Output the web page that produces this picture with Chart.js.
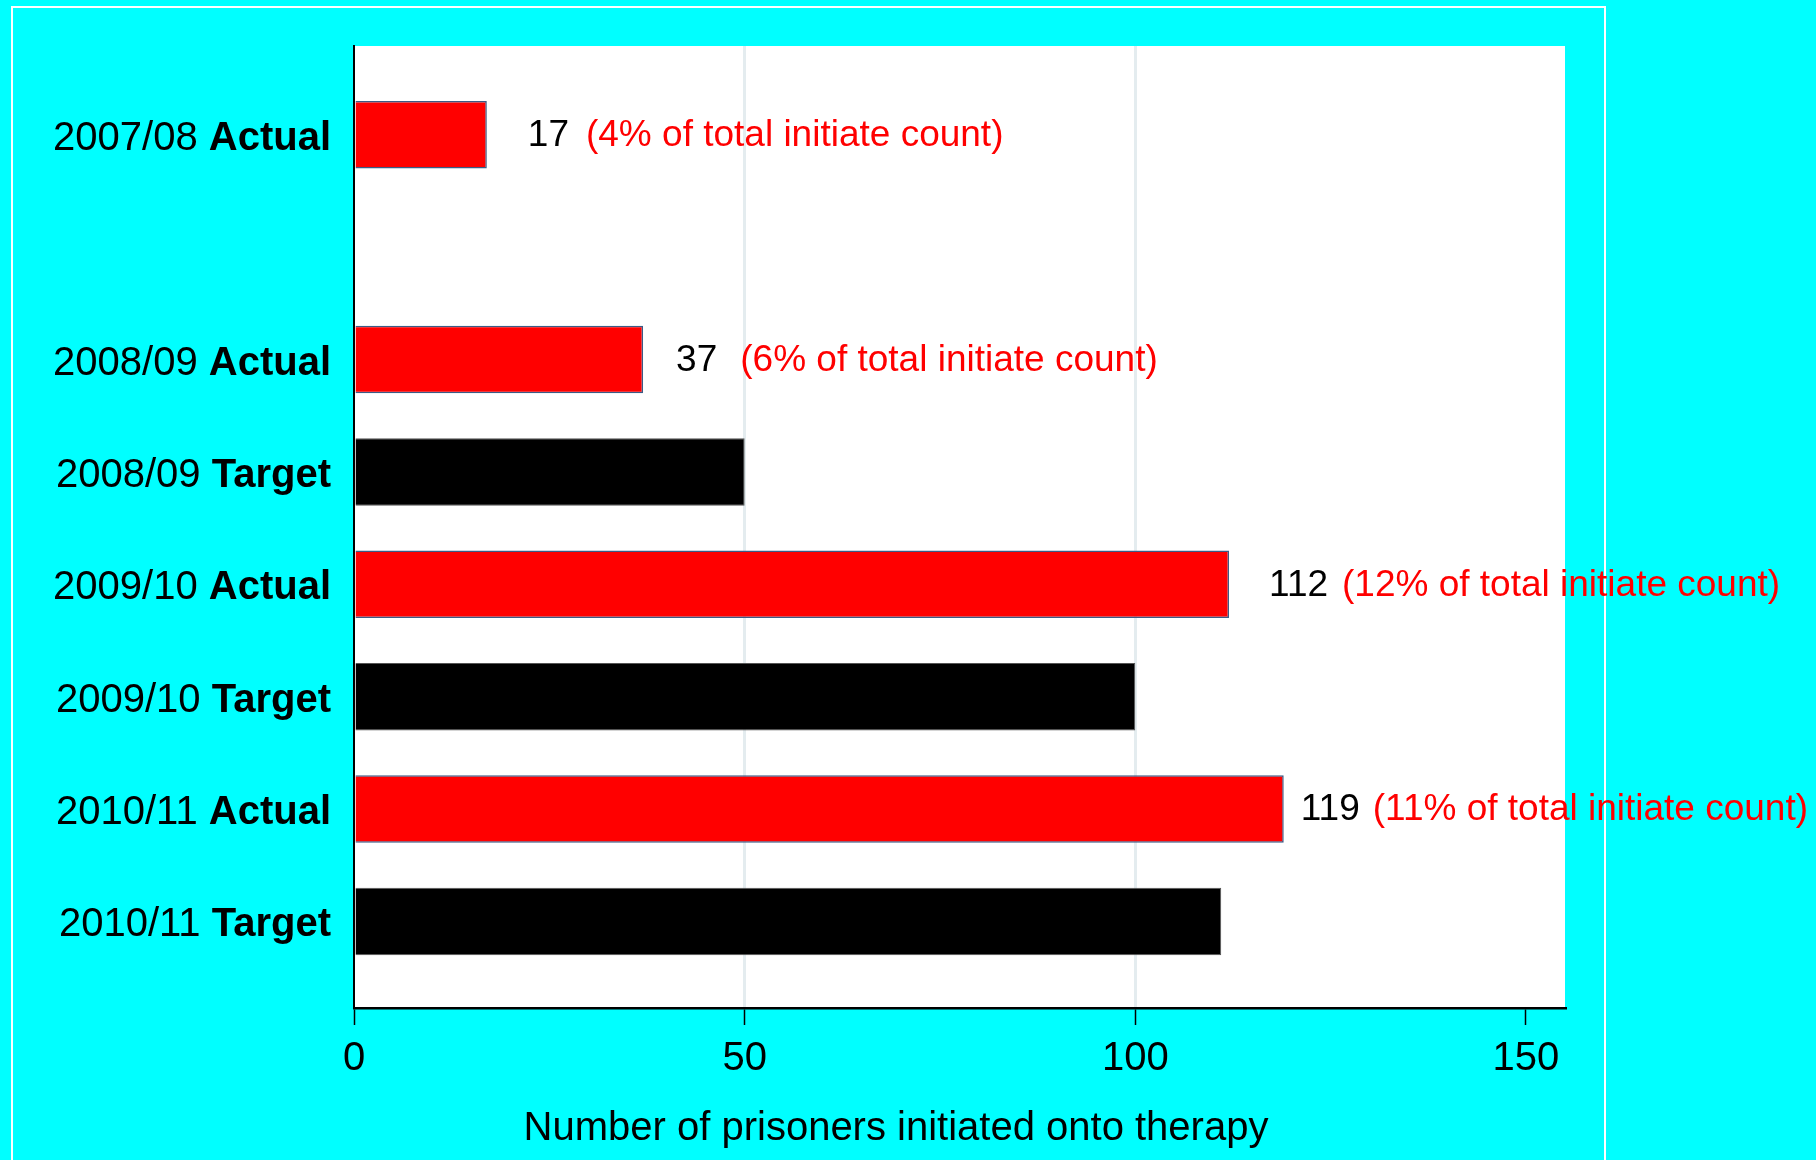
<!DOCTYPE html>
<html>
<head>
<meta charset="utf-8">
<title>Prisoners initiated onto therapy</title>
<script src="https://cdn.jsdelivr.net/npm/chart.js@4"></script>
<style>
  html, body { margin: 0; padding: 0; background: #00ffff; }
</style>
</head>
<body>
<canvas id="initiates" width="1816" height="1160"></canvas>
<script>
// rows top to bottom; the blank row leaves the gap under 2007/08 (no target that year)
const rowLabels = ['2007/08 Actual', '', '2008/09 Actual', '2008/09 Target',
                   '2009/10 Actual', '2009/10 Target', '2010/11 Actual', '2010/11 Target'];

const actualRows = [0, 2, 4, 6];
const actualValues = [17, 37, 112, 119];
const actualShares = ['4%', '6%', '12%', '11%'];

const targetRows = [3, 5, 7];
const targetValues = [50, 100, 111];

const xTickValues = [0, 50, 100, 150];
const gridValues = [50, 100];

const axisTitle = 'Number of prisoners initiated onto therapy';

// hand tweaks for the value notes: space after the bar end, space before the bracket
const noteNudge = [41, 33, 40, 17];
const noteGap = [17, 23, 14, 13];

const FONT = "'Liberation Sans', Arial, Helvetica, sans-serif";

const decor = {
    id: 'decor',
    beforeDraw(chart) {
        const { ctx, chartArea: a } = chart;
        ctx.save();
        ctx.fillStyle = '#00ffff';
        ctx.fillRect(0, 0, chart.width, chart.height);
        // thin white frame round the slide
        ctx.strokeStyle = '#ffffff';
        ctx.lineWidth = 2;
        ctx.strokeRect(12, 7, 1593, chart.height + 20);
        // white plot area
        ctx.fillStyle = '#ffffff';
        ctx.fillRect(a.left, a.top, a.right - a.left, a.bottom - a.top);
        ctx.restore();
    },
    afterDraw(chart) {
        const { ctx } = chart;
        const xs = chart.scales.x, ys = chart.scales.y;
        ctx.save();
        ctx.textBaseline = 'middle';
        ctx.textAlign = 'left';

        // row labels: year in plain, Actual/Target in bold
        rowLabels.forEach((label, i) => {
            if (!label) return;
            const cut = label.lastIndexOf(' ');
            const year = label.slice(0, cut + 1);
            const kind = label.slice(cut + 1);
            ctx.font = `40px ${FONT}`;
            const w1 = ctx.measureText(year).width;
            ctx.font = `bold 40px ${FONT}`;
            const w2 = ctx.measureText(kind).width;
            const left = 331 - w1 - w2;
            const py = ys.getPixelForValue(i) + 4;
            ctx.fillStyle = '#000000';
            ctx.font = `40px ${FONT}`;
            ctx.fillText(year, left, py);
            ctx.font = `bold 40px ${FONT}`;
            ctx.fillText(kind, left + w1, py);
        });

        // value and share of total next to each actual bar
        ctx.font = `37px ${FONT}`;
        actualValues.forEach((v, k) => {
            const px = xs.getPixelForValue(v) + noteNudge[k];
            const py = ys.getPixelForValue(actualRows[k]) + 1;
            const num = String(v);
            ctx.fillStyle = '#000000';
            ctx.fillText(num, px, py);
            const w = ctx.measureText(num).width;
            ctx.fillStyle = '#ff0000';
            ctx.fillText(`(${actualShares[k]} of total initiate count)`, px + w + noteGap[k], py);
        });

        // axis title
        ctx.fillStyle = '#000000';
        ctx.font = `40px ${FONT}`;
        ctx.textAlign = 'center';
        ctx.fillText(axisTitle, 896, 1129);
        ctx.restore();
    }
};

new Chart(document.getElementById('initiates'), {
    type: 'bar',
    data: {
        datasets: [{
            label: 'Actual',
            data: actualRows.map((r, i) => ({ x: actualValues[i], y: r })),
            backgroundColor: '#ff0000',
            borderColor: '#3b5b86',
            borderWidth: 1.5
        }, {
            label: 'Target',
            data: targetRows.map((r, i) => ({ x: targetValues[i], y: r })),
            backgroundColor: '#000000',
            borderColor: '#555555',
            borderWidth: 1
        }]
    },
    options: {
        indexAxis: 'y',
        responsive: false,
        animation: false,
        layout: { padding: { top: 46, right: 251, left: 0, bottom: 0 } },
        datasets: {
            bar: { grouped: false, barPercentage: 0.6, categoryPercentage: 1 }
        },
        plugins: {
            legend: { display: false },
            tooltip: { enabled: false }
        },
        scales: {
            x: {
                type: 'linear',
                min: 0,
                max: 155,
                afterBuildTicks: s => { s.ticks = xTickValues.map(v => ({ value: v })); },
                afterFit: s => { s.height = 152; },
                ticks: {
                    font: { family: FONT, size: 40 },
                    color: '#000000',
                    padding: 10
                },
                grid: {
                    color: c => (c.tick && gridValues.includes(c.tick.value)) ? '#e4ecef' : 'rgba(0,0,0,0)',
                    lineWidth: 3,
                    tickColor: '#000000',
                    tickLength: 17,
                    tickWidth: 1.5
                },
                border: { color: '#000000', width: 2.5 }
            },
            y: {
                type: 'linear',
                reverse: true,
                offset: false,
                min: -0.79,
                max: 7.77,
                afterBuildTicks: s => { s.ticks = rowLabels.map((_, i) => ({ value: i })); },
                afterFit: s => { s.width = 354; },
                ticks: { display: false },
                grid: { display: false, offset: false },
                border: { color: '#000000', width: 2 }
            }
        }
    },
    plugins: [decor]
});
</script>
</body>
</html>
